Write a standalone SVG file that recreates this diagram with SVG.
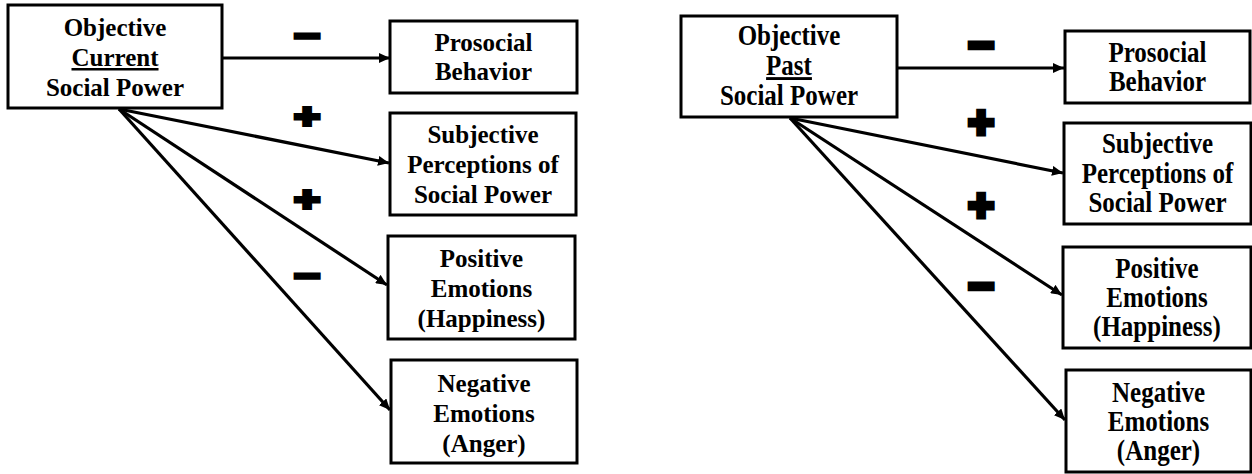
<svg xmlns="http://www.w3.org/2000/svg" width="1252" height="474" viewBox="0 0 1252 474">
  <style>
    .box { fill: #ffffff; stroke: #000000; stroke-width: 3; }
    .lbl { font-weight: bold; font-size: 25px; fill: #000000; text-anchor: middle; }
    .ul { text-decoration: underline; }
    .edge { fill: none; stroke: #000000; stroke-width: 3.2; marker-end: url(#arrow); }
    .sign { font-weight: bold; font-size: 44px; fill: #000000; stroke: #000000; stroke-width: 5; stroke-linejoin: miter; text-anchor: middle; }
  </style>
  <defs>
    <marker id="arrow" markerUnits="userSpaceOnUse" markerWidth="12" markerHeight="10" refX="11" refY="5" orient="auto">
      <path d="M0,0 L11,5 L0,10 Z" fill="#000000"/>
    </marker>
  </defs>
  <rect width="1252" height="474" fill="#ffffff"/>

  <!-- connectors: current power model -->
  <g id="connectors-current">
    <path class="edge" d="M222,58 L390,58"/>
    <path class="edge" d="M119,109 L389,163"/>
    <path class="edge" d="M119,109 L387,285"/>
    <path class="edge" d="M119,109 L390,410"/>
  </g>

  <!-- connectors: past power model -->
  <g id="connectors-past">
    <path class="edge" d="M897,68 L1064,68"/>
    <path class="edge" d="M790,118 L1063,173"/>
    <path class="edge" d="M790,118 L1062,295"/>
    <path class="edge" d="M790,118 L1065,420"/>
  </g>

  <!-- path signs -->
  <g id="signs-current" font-family="'Liberation Sans', Arial, sans-serif">
    <text class="sign" transform="translate(307,35.5) scale(1,0.75)" y="15">−</text>
    <text class="sign" transform="translate(307,117) scale(1,0.75)" y="15">+</text>
    <text class="sign" transform="translate(307,200) scale(1,0.75)" y="15">+</text>
    <text class="sign" transform="translate(307,275.5) scale(1,0.75)" y="15">−</text>
  </g>
  <g id="signs-past" font-family="'Liberation Sans', Arial, sans-serif">
    <text class="sign" transform="translate(981,45)" y="15">−</text>
    <text class="sign" transform="translate(981,123)" y="15">+</text>
    <text class="sign" transform="translate(981,206)" y="15">+</text>
    <text class="sign" transform="translate(981,286)" y="15">−</text>
  </g>

  <g font-family="'Liberation Serif', 'Times New Roman', 'DejaVu Serif', serif">
  <!-- current power model nodes -->
  <g id="node-current-power">
    <rect class="box" x="8" y="5" width="214" height="103"/>
    <text class="lbl" x="115" y="36">Objective</text>
    <text class="lbl ul" x="115" y="66">Current</text>
    <text class="lbl" x="115" y="96">Social Power</text>
  </g>
  <g id="node-current-prosocial">
    <rect class="box" x="390" y="21" width="187" height="72"/>
    <text class="lbl" x="483.5" y="51">Prosocial</text>
    <text class="lbl" x="483.5" y="80">Behavior</text>
  </g>
  <g id="node-current-subjective">
    <rect class="box" x="390" y="113" width="186" height="102"/>
    <text class="lbl" x="483" y="143">Subjective</text>
    <text class="lbl" x="483" y="173">Perceptions of</text>
    <text class="lbl" x="483" y="203">Social Power</text>
  </g>
  <g id="node-current-positive">
    <rect class="box" x="388" y="236" width="187" height="103"/>
    <text class="lbl" x="481.5" y="267">Positive</text>
    <text class="lbl" x="481.5" y="297">Emotions</text>
    <text class="lbl" x="481.5" y="327">(Happiness)</text>
  </g>
  <g id="node-current-negative">
    <rect class="box" x="391" y="360" width="186" height="103"/>
    <text class="lbl" x="484" y="392">Negative</text>
    <text class="lbl" x="484" y="422">Emotions</text>
    <text class="lbl" x="484" y="452">(Anger)</text>
  </g>

  <!-- past power model nodes -->
  <g id="node-past-power">
    <rect class="box" x="681" y="16" width="216" height="101"/>
    <text class="lbl" transform="translate(789,45) scale(1,1.15)">Objective</text>
    <text class="lbl ul" transform="translate(789,75) scale(1,1.15)">Past</text>
    <text class="lbl" transform="translate(789,105) scale(1,1.15)">Social Power</text>
  </g>
  <g id="node-past-prosocial">
    <rect class="box" x="1065" y="31" width="185" height="72"/>
    <text class="lbl" transform="translate(1157.5,62) scale(1,1.15)">Prosocial</text>
    <text class="lbl" transform="translate(1157.5,91) scale(1,1.15)">Behavior</text>
  </g>
  <g id="node-past-subjective">
    <rect class="box" x="1064" y="123" width="187" height="101"/>
    <text class="lbl" transform="translate(1157.5,153) scale(1,1.15)">Subjective</text>
    <text class="lbl" transform="translate(1157.5,183) scale(1,1.15)">Perceptions of</text>
    <text class="lbl" transform="translate(1157.5,212) scale(1,1.15)">Social Power</text>
  </g>
  <g id="node-past-positive">
    <rect class="box" x="1063" y="247" width="188" height="101"/>
    <text class="lbl" transform="translate(1157,278) scale(1,1.15)">Positive</text>
    <text class="lbl" transform="translate(1157,307) scale(1,1.15)">Emotions</text>
    <text class="lbl" transform="translate(1157,336) scale(1,1.15)">(Happiness)</text>
  </g>
  <g id="node-past-negative">
    <rect class="box" x="1066" y="370" width="185" height="102"/>
    <text class="lbl" transform="translate(1158.5,402) scale(1,1.15)">Negative</text>
    <text class="lbl" transform="translate(1158.5,431) scale(1,1.15)">Emotions</text>
    <text class="lbl" transform="translate(1158.5,460) scale(1,1.15)">(Anger)</text>
  </g>
  </g>
</svg>
